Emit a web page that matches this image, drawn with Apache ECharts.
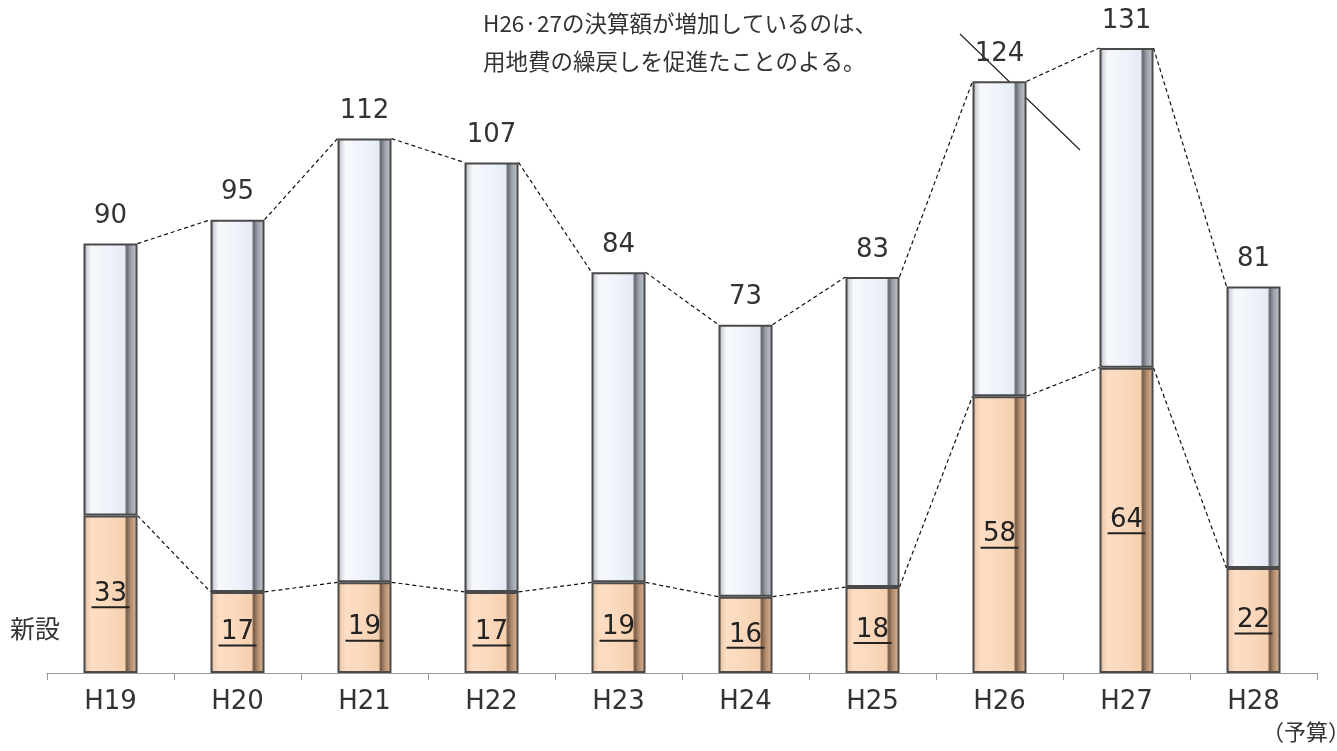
<!DOCTYPE html>
<html><head><meta charset="utf-8">
<script src="https://cdn.jsdelivr.net/npm/echarts@6/dist/echarts.min.js"></script>
<style>html,body{margin:0;padding:0;background:#fff}#c{width:1337px;height:751px}</style>
</head><body><div id="c"></div>
<script>
const categories = ['H19','H20','H21','H22','H23','H24','H25','H26','H27','H28'];
const totals = [90,95,112,107,84,73,83,124,131,81];
const newVals = [33,17,19,17,19,16,18,58,64,22];
const restVals = totals.map((t,i)=>t-newVals[i]);

const NUM_FONT = '"DejaVu Sans", "Liberation Sans", sans-serif';
const JP_FONT = '"Noto Sans CJK JP", sans-serif';
const BAR_W = 54;

const chart = echarts.init(document.getElementById('c'));

function grad(stops){
  return new echarts.graphic.LinearGradient(0,0,1,0, stops.map(s=>({offset:s[0],color:s[1]})));
}
const blueFill = grad([[0,'#9ea2aa'],[0.07,'#d6d9e0'],[0.15,'#f7f9fc'],[0.5,'#eef2fa'],[0.76,'#e6eaf3'],[0.8,'#62666e'],[0.87,'#9a9ea6'],[1,'#c8ccd4']]);
const peachFill = grad([[0,'#cfa98a'],[0.07,'#f0ceb1'],[0.15,'#fddec4'],[0.5,'#fad7ba'],[0.76,'#f5d0b0'],[0.8,'#765a44'],[0.87,'#b08a6c'],[1,'#e3bb99']]);

function linkSeries(vals){
  const data = [];
  for (let i=0;i<vals.length-1;i++) data.push([i, vals[i], vals[i+1]]);
  return {
    type:'custom', z:5, silent:true,
    data,
    renderItem(params, api){
      const i = api.value(0);
      const p1 = api.coord([i, api.value(1)]);
      const p2 = api.coord([i+1, api.value(2)]);
      return {type:'line', shape:{x1:p1[0]+BAR_W/2, y1:p1[1], x2:p2[0]-BAR_W/2, y2:p2[1]},
        style:{stroke:'#111', lineWidth:1.2, lineDash:[4,3]}};
    }
  };
}

const option = {
  animation:false,
  grid:{left:47, right:20, top:5, bottom:78},
  xAxis:{
    type:'category', data:categories,
    axisLine:{lineStyle:{color:'#999', width:1}},
    axisTick:{show:true, length:7, lineStyle:{color:'#999'}},
    axisLabel:{color:'#333', fontFamily:NUM_FONT, fontSize:26, margin:16}
  },
  yAxis:{type:'value', min:0, max:140, show:false, splitLine:{show:false}},
  series:[
    {
      type:'bar', stack:'a', data:newVals, barWidth:BAR_W,
      itemStyle:{color:peachFill, borderColor:'#4a4a4a', borderWidth:2}
    },
    {
      type:'bar', stack:'a', data:restVals, barWidth:BAR_W,
      itemStyle:{color:blueFill, borderColor:'#4a4a4a', borderWidth:2},
      label:{show:true, position:'top', distance:14, color:'#333', fontFamily:NUM_FONT, fontSize:26,
        formatter:(p)=>String(totals[p.dataIndex])}
    },
    linkSeries(totals),
    linkSeries(newVals),
    {
      type:'custom', z:10, silent:true,
      data:newVals.map((v,i)=>[i,v]),
      renderItem(params, api){
        const i = api.value(0), v = api.value(1);
        const p = api.coord([i, v/2]);
        const txt = String(v);
        const w = txt.length*19;
        return {type:'group', children:[
          {type:'text', style:{text:txt, x:p[0], y:p[1], align:'center', verticalAlign:'middle',
            font:'26px ' + NUM_FONT, fill:'#222'}},
          {type:'line', shape:{x1:p[0]-w/2, y1:p[1]+13, x2:p[0]+w/2, y2:p[1]+13},
            style:{stroke:'#222', lineWidth:2}}
        ]};
      }
    }
  ],
  graphic:[
    {type:'text', left:483, top:4, style:{text:'H26·27の決算額が増加しているのは、\n用地費の繰戻しを促進たことのよる。',
      font:'22.5px ' + JP_FONT, fill:'#333', lineHeight:38}},
    {type:'line', shape:{x1:960, y1:34, x2:1080, y2:150}, style:{stroke:'#222', lineWidth:1.2}},
    {type:'text', left:10, top:616, style:{text:'新設', font:'25px ' + JP_FONT, fill:'#333'}},
    {type:'text', left:1262, top:721, style:{text:'（予算）', font:'22px ' + JP_FONT, fill:'#333'}}
  ]
};
chart.setOption(option);
</script>
</body></html>
